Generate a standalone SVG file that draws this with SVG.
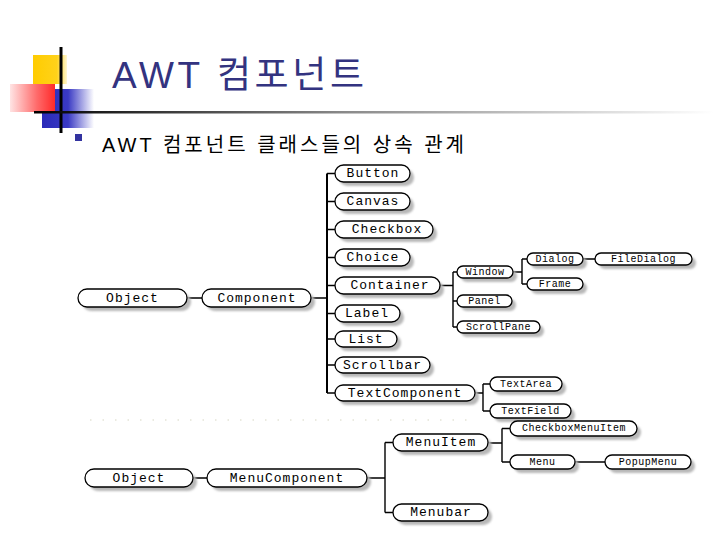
<svg xmlns="http://www.w3.org/2000/svg" width="720" height="540" viewBox="0 0 720 540">
<defs>
<linearGradient id="gy" x1="0" x2="1" y1="0" y2="0"><stop offset="0" stop-color="#FFCC00"/><stop offset="0.7" stop-color="#FFD21A"/><stop offset="1" stop-color="#FFF6D0"/></linearGradient>
<linearGradient id="gr" x1="0" x2="1" y1="0" y2="0"><stop offset="0" stop-color="#FFE4E4"/><stop offset="0.6" stop-color="#FF6A6A"/><stop offset="1" stop-color="#FF2A2A"/></linearGradient>
<linearGradient id="gb" x1="0" x2="1" y1="0" y2="0"><stop offset="0" stop-color="#2A2AB8"/><stop offset="0.5" stop-color="#3A3AC4"/><stop offset="1" stop-color="#FFFFFF"/></linearGradient>
<linearGradient id="gl" x1="0" x2="1" y1="0" y2="0"><stop offset="0" stop-color="#000000"/><stop offset="0.45" stop-color="#888888"/><stop offset="1" stop-color="#FFFFFF"/></linearGradient>
<filter id="sh" x="-10%" y="-30%" width="130%" height="180%"><feGaussianBlur stdDeviation="1"/></filter>
</defs>
<style>
.n rect.p{fill:#fff;stroke:#000;stroke-width:1.3}
.n rect.s{fill:#b8b8b8;filter:url(#sh)}
.t{font-family:"Liberation Mono","DejaVu Sans Mono",monospace;font-size:13px;letter-spacing:1px;text-anchor:middle;dominant-baseline:central;fill:#000}
.ts{font-family:"Liberation Mono","DejaVu Sans Mono",monospace;font-size:10px;letter-spacing:0.5px;text-anchor:middle;dominant-baseline:central;fill:#000}
.c{fill:none;stroke:#000;stroke-width:1.4}
.b{fill:none;stroke:#000;stroke-width:2}
</style>
<rect width="720" height="540" fill="#fff"/>
<g id="decoration">
<rect x="33" y="55" width="34" height="29" fill="url(#gy)"/>
<rect x="42" y="89" width="52" height="39" fill="url(#gb)"/>
<rect x="10" y="84" width="45" height="28" fill="url(#gr)"/>
<line x1="61" y1="47" x2="61" y2="133" stroke="#000" stroke-width="3"/>
<rect x="34" y="111" width="680" height="2.5" fill="url(#gl)"/>
</g>
<text x="112" y="88" font-family="'Liberation Sans','Noto Sans CJK KR',sans-serif" font-size="37" fill="#333380" textLength="252" lengthAdjust="spacing">AWT 컴포넌트</text>
<rect x="75" y="134" width="7" height="7" fill="#3333A0"/>
<text x="102" y="152" font-family="'Liberation Sans','Noto Sans CJK KR',sans-serif" font-size="20" fill="#000" textLength="362" lengthAdjust="spacing">AWT 컴포넌트 클래스들의 상속 관계</text>
<line x1="90" y1="420" x2="470" y2="420" stroke="#e4e4d8" stroke-width="1.5" stroke-dasharray="1.5 11"/>
<g id="connectors">
<path class="c" d="M187 298H202M311 298H327"/>
<path class="b" d="M327 173.5V393"/>
<path class="c" d="M327 173.5H335M327 201.5H335M327 229.5H335M327 257.5H335M327 285.5H335M327 313.5H335M327 339H335M327 365H335M327 393H335"/>
<path class="c" d="M440 285.5H453M453 272V327M453 272H457M453 301H457M453 327H457"/>
<path class="c" d="M513 272H522M522 259V284M522 259H527M522 284H527M583 259H595"/>
<path class="c" d="M475 393H483M483 384V411M483 384H490M483 411H490"/>
<path class="c" d="M193 478H207M367 478H385M385 442.5V512.5M385 442.5H393M385 512.5H393"/>
<path class="c" d="M488 443H502M502 428.5V462M502 428.5H510M502 462H510M575 462H605"/>
</g>
<g id="obj1" class="n"><rect class="s" x="82" y="293" width="109" height="18" rx="9"/><rect class="p" x="78" y="289" width="109" height="18" rx="9"/><text class="t" x="132.5" y="298">Object</text></g>
<g id="component" class="n"><rect class="s" x="206" y="293" width="109" height="18" rx="9"/><rect class="p" x="202" y="289" width="109" height="18" rx="9"/><text class="t" x="257" y="298">Component</text></g>
<g id="button" class="n"><rect class="s" x="339" y="169" width="75" height="17" rx="8.5"/><rect class="p" x="335" y="165" width="75" height="17" rx="8.5"/><text class="t" x="373" y="173.5">Button</text></g>
<g id="canvas" class="n"><rect class="s" x="339" y="197" width="75" height="17" rx="8.5"/><rect class="p" x="335" y="193" width="75" height="17" rx="8.5"/><text class="t" x="373" y="201.5">Canvas</text></g>
<g id="checkbox" class="n"><rect class="s" x="339" y="225" width="98" height="17" rx="8.5"/><rect class="p" x="335" y="221" width="98" height="17" rx="8.5"/><text class="t" x="387" y="229.5">Checkbox</text></g>
<g id="choice" class="n"><rect class="s" x="339" y="253" width="75" height="17" rx="8.5"/><rect class="p" x="335" y="249" width="75" height="17" rx="8.5"/><text class="t" x="373" y="257.5">Choice</text></g>
<g id="container" class="n"><rect class="s" x="339" y="281" width="105" height="17" rx="8.5"/><rect class="p" x="335" y="277" width="105" height="17" rx="8.5"/><text class="t" x="390" y="285.5">Container</text></g>
<g id="label" class="n"><rect class="s" x="339" y="309" width="65" height="17" rx="8.5"/><rect class="p" x="335" y="305" width="65" height="17" rx="8.5"/><text class="t" x="367" y="313.5">Label</text></g>
<g id="list" class="n"><rect class="s" x="339" y="335" width="62" height="16" rx="8"/><rect class="p" x="335" y="331" width="62" height="16" rx="8"/><text class="t" x="366" y="339">List</text></g>
<g id="scrollbar" class="n"><rect class="s" x="339" y="361" width="95" height="16" rx="8"/><rect class="p" x="335" y="357" width="95" height="16" rx="8"/><text class="t" x="382.5" y="365">Scrollbar</text></g>
<g id="textcomponent" class="n"><rect class="s" x="339" y="389" width="140" height="16" rx="8"/><rect class="p" x="335" y="385" width="140" height="16" rx="8"/><text class="t" x="405" y="393">TextComponent</text></g>
<g id="window" class="n"><rect class="s" x="461" y="270" width="56" height="12" rx="6"/><rect class="p" x="457" y="266" width="56" height="12" rx="6"/><text class="ts" x="485" y="272">Window</text></g>
<g id="panel" class="n"><rect class="s" x="461" y="299" width="55" height="12" rx="6"/><rect class="p" x="457" y="295" width="55" height="12" rx="6"/><text class="ts" x="484.5" y="301">Panel</text></g>
<g id="scrollpane" class="n"><rect class="s" x="461" y="325" width="83" height="12" rx="6"/><rect class="p" x="457" y="321" width="83" height="12" rx="6"/><text class="ts" x="498.5" y="327">ScrollPane</text></g>
<g id="dialog" class="n"><rect class="s" x="531" y="257" width="56" height="12" rx="6"/><rect class="p" x="527" y="253" width="56" height="12" rx="6"/><text class="ts" x="555" y="259">Dialog</text></g>
<g id="frame" class="n"><rect class="s" x="531" y="282" width="56" height="12" rx="6"/><rect class="p" x="527" y="278" width="56" height="12" rx="6"/><text class="ts" x="555" y="284">Frame</text></g>
<g id="filedialog" class="n"><rect class="s" x="599" y="257" width="97" height="12" rx="6"/><rect class="p" x="595" y="253" width="97" height="12" rx="6"/><text class="ts" x="643.5" y="259">FileDialog</text></g>
<g id="textarea" class="n"><rect class="s" x="494" y="381" width="72" height="14" rx="7"/><rect class="p" x="490" y="377" width="72" height="14" rx="7"/><text class="ts" x="526" y="384">TextArea</text></g>
<g id="textfield" class="n"><rect class="s" x="494" y="408" width="81" height="14" rx="7"/><rect class="p" x="490" y="404" width="81" height="14" rx="7"/><text class="ts" x="530.5" y="411">TextField</text></g>
<g id="obj2" class="n"><rect class="s" x="89" y="473" width="108" height="18" rx="9"/><rect class="p" x="85" y="469" width="108" height="18" rx="9"/><text class="t" x="139" y="478">Object</text></g>
<g id="menucomponent" class="n"><rect class="s" x="211" y="473" width="160" height="18" rx="9"/><rect class="p" x="207" y="469" width="160" height="18" rx="9"/><text class="t" x="287" y="478">MenuComponent</text></g>
<g id="menuitem" class="n"><rect class="s" x="397" y="438" width="95" height="17" rx="8.5"/><rect class="p" x="393" y="434" width="95" height="17" rx="8.5"/><text class="t" x="441" y="442.5">MenuItem</text></g>
<g id="menubar" class="n"><rect class="s" x="397" y="508" width="95" height="17" rx="8.5"/><rect class="p" x="393" y="504" width="95" height="17" rx="8.5"/><text class="t" x="441" y="512.5">Menubar</text></g>
<g id="checkboxmenuitem" class="n"><rect class="s" x="514" y="425" width="127" height="15" rx="7.5"/><rect class="p" x="510" y="421" width="127" height="15" rx="7.5"/><text class="ts" x="574" y="428.5">CheckboxMenuItem</text></g>
<g id="menu" class="n"><rect class="s" x="514" y="459" width="65" height="14" rx="7"/><rect class="p" x="510" y="455" width="65" height="14" rx="7"/><text class="ts" x="542.5" y="462">Menu</text></g>
<g id="popupmenu" class="n"><rect class="s" x="609" y="459" width="86" height="14" rx="7"/><rect class="p" x="605" y="455" width="86" height="14" rx="7"/><text class="ts" x="648" y="462">PopupMenu</text></g>
</svg>
